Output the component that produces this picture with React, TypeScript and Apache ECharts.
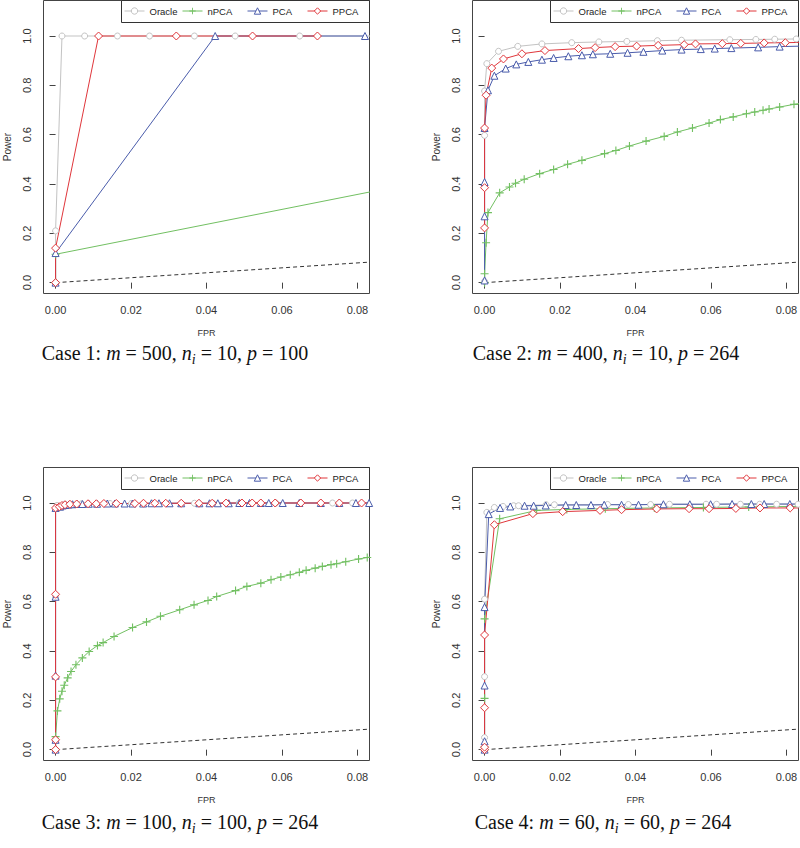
import { useEffect, useRef } from 'react';
import * as echarts from 'echarts';

// ---------- axis ticks / names ----------
const xTicks = [0, 0.02, 0.04, 0.06, 0.08];
const yTicks = [0, 0.2, 0.4, 0.6, 0.8, 1.0];
const seriesNames = ['Oracle', 'nPCA', 'PCA', 'PPCA'];
const refX = [0, 0.1];
const refY = [0, 0.1];

// ---------- captions ----------
const caseLabels = ['Case 1', 'Case 2', 'Case 3', 'Case 4'];
const mValues = ['500', '400', '100', '60'];
const nValues = ['10', '10', '100', '60'];
const pValues = ['100', '264', '264', '264'];

// ---------- Case 1 ----------
const c1OracleX = [0, 0, 0.0017, 0.0077, 0.0164, 0.0249, 0.0368, 0.0476, 0.0647, 0.09];
const c1OracleY = [0, 0.21, 1, 1, 1, 1, 1, 1, 1, 1];
const c1NpcaX = [0, 0, 0.12];
const c1NpcaY = [0, 0.115, 0.479];
const c1PcaX = [0, 0, 0.0423, 0.082];
const c1PcaY = [0, 0.12, 1, 1];
const c1PpcaX = [0, 0, 0.0114, 0.032, 0.0522, 0.0694];
const c1PpcaY = [0, 0.14, 1, 1, 1, 1];

// ---------- Case 2 ----------
const c2OracleX = [0, 0, 0, 0.0006, 0.0037, 0.0088, 0.0152, 0.0231, 0.0303, 0.0377, 0.0458, 0.0522, 0.065, 0.0719, 0.0769, 0.0826];
const c2OracleY = [0.005, 0.597, 0.777, 0.888, 0.938, 0.958, 0.968, 0.973, 0.976, 0.978, 0.981, 0.983, 0.985, 0.986, 0.987, 0.988];
const c2NpcaX = [0, 0, 0.0004, 0.0009, 0.004, 0.0066, 0.0082, 0.0105, 0.0146, 0.0183, 0.022, 0.0258, 0.0318, 0.0348, 0.0384, 0.0428, 0.0476, 0.0511, 0.0551, 0.0595, 0.0625, 0.0659, 0.0694, 0.0716, 0.0738, 0.0754, 0.0782, 0.082, 0.087];
const c2NpcaY = [0, 0.036, 0.162, 0.284, 0.364, 0.388, 0.403, 0.419, 0.442, 0.459, 0.48, 0.496, 0.523, 0.536, 0.554, 0.574, 0.593, 0.611, 0.627, 0.647, 0.661, 0.672, 0.685, 0.692, 0.699, 0.704, 0.712, 0.723, 0.733];
const c2PcaX = [0, 0, 0, 0, 0.0009, 0.0026, 0.0056, 0.0084, 0.0116, 0.0152, 0.0183, 0.0222, 0.0258, 0.0287, 0.0333, 0.0379, 0.0421, 0.0471, 0.0522, 0.0573, 0.061, 0.0654, 0.0725, 0.0782, 0.087];
const c2PcaY = [0.009, 0.269, 0.408, 0.627, 0.78, 0.839, 0.868, 0.885, 0.895, 0.904, 0.911, 0.918, 0.922, 0.926, 0.928, 0.932, 0.936, 0.941, 0.945, 0.947, 0.949, 0.951, 0.954, 0.957, 0.96];
const c2PpcaX = [0, 0, 0, 0.0004, 0.0019, 0.005, 0.0099, 0.016, 0.0249, 0.0293, 0.0346, 0.0403, 0.046, 0.0529, 0.0559, 0.063, 0.0679, 0.0741, 0.0797, 0.087];
const c2PpcaY = [0.222, 0.385, 0.627, 0.76, 0.87, 0.907, 0.928, 0.941, 0.949, 0.953, 0.957, 0.959, 0.962, 0.965, 0.968, 0.969, 0.97, 0.972, 0.973, 0.975];

// ---------- Case 3 ----------
const c3OracleX = [0, 0, 0, 0, 0.0004, 0.0025, 0.0069, 0.0144, 0.0201, 0.0258, 0.0333, 0.0368, 0.0417, 0.0487, 0.0584, 0.065, 0.0734, 0.0787, 0.09];
const c3OracleY = [0, 0.042, 0.62, 0.978, 0.99, 0.995, 0.997, 0.998, 0.998, 0.999, 0.999, 0.999, 0.999, 1, 1, 1, 1, 1, 1];
const c3NpcaX = [0, 0, 0.0005, 0.0011, 0.0017, 0.0023, 0.0032, 0.0041, 0.0054, 0.0071, 0.0089, 0.0111, 0.0126, 0.0155, 0.0204, 0.0241, 0.0278, 0.0329, 0.0367, 0.0404, 0.0427, 0.0477, 0.0507, 0.0544, 0.0571, 0.0597, 0.0622, 0.0646, 0.0664, 0.0688, 0.0707, 0.073, 0.0745, 0.0769, 0.0803, 0.0826, 0.087];
const c3NpcaY = [0, 0.053, 0.157, 0.206, 0.237, 0.261, 0.291, 0.317, 0.344, 0.372, 0.398, 0.422, 0.434, 0.459, 0.495, 0.518, 0.541, 0.567, 0.587, 0.605, 0.621, 0.645, 0.662, 0.675, 0.689, 0.7, 0.709, 0.719, 0.727, 0.736, 0.743, 0.75, 0.754, 0.762, 0.773, 0.779, 0.79];
const c3PcaX = [0, 0, 0, 0, 0, 0.0012, 0.0019, 0.0026, 0.0035, 0.0045, 0.0057, 0.0071, 0.0088, 0.011, 0.0137, 0.0157, 0.0183, 0.0204, 0.0232, 0.0254, 0.0274, 0.0302, 0.0333, 0.0381, 0.0408, 0.043, 0.0459, 0.0487, 0.0514, 0.0544, 0.0565, 0.0602, 0.0646, 0.0703, 0.0752, 0.0796, 0.0831];
const c3PcaY = [0, 0.04, 0.3, 0.62, 0.98, 0.985, 0.99, 0.992, 0.994, 0.995, 0.996, 0.996, 0.997, 0.997, 0.998, 0.998, 0.998, 0.998, 0.998, 0.999, 0.999, 0.999, 0.999, 0.999, 0.999, 0.999, 0.999, 1, 1, 1, 1, 1, 1, 1, 1, 1, 1];
const c3PpcaX = [0, 0, 0, 0, 0, 0.001, 0.0017, 0.0025, 0.0038, 0.0056, 0.0086, 0.0108, 0.0128, 0.0161, 0.021, 0.0233, 0.0263, 0.0292, 0.0333, 0.038, 0.0415, 0.0452, 0.0494, 0.0521, 0.0544, 0.0582, 0.065, 0.0703, 0.0752, 0.0811, 0.09];
const c3PpcaY = [0, 0.04, 0.295, 0.63, 0.98, 0.985, 0.99, 0.993, 0.995, 0.996, 0.997, 0.997, 0.998, 0.998, 0.998, 0.999, 0.999, 0.999, 0.999, 0.999, 0.999, 1, 1, 1, 1, 1, 1, 1, 1, 1, 1];

// ---------- Case 4 ----------
const c4OracleX = [0, 0, 0, 0, 0.0006, 0.0026, 0.0049, 0.0077, 0.009, 0.0163, 0.0185, 0.0326, 0.0381, 0.044, 0.049, 0.0587, 0.0615, 0.0678, 0.0729, 0.0774, 0.0831];
const c4OracleY = [0, 0.049, 0.296, 0.61, 0.962, 0.982, 0.986, 0.989, 0.989, 0.993, 0.993, 0.994, 0.994, 0.994, 0.995, 0.995, 0.995, 0.995, 0.995, 0.995, 0.995];
const c4NpcaX = [0, 0, 0, 0, 0.004, 0.0138, 0.0218, 0.032, 0.045, 0.058, 0.07, 0.087];
const c4NpcaY = [0, 0.01, 0.208, 0.53, 0.936, 0.97, 0.974, 0.977, 0.98, 0.982, 0.984, 0.987];
const c4PcaX = [0, 0, 0, 0, 0.0011, 0.0041, 0.0068, 0.0106, 0.013, 0.0162, 0.0215, 0.0243, 0.0282, 0.0317, 0.0363, 0.0408, 0.0474, 0.0544, 0.0599, 0.0656, 0.0707, 0.0741, 0.0809, 0.087];
const c4PcaY = [0, 0.034, 0.26, 0.578, 0.955, 0.98, 0.986, 0.989, 0.989, 0.99, 0.992, 0.992, 0.992, 0.993, 0.993, 0.993, 0.995, 0.995, 0.995, 0.996, 0.996, 0.996, 0.996, 0.996];
const c4PpcaX = [0, 0, 0, 0, 0.0026, 0.0128, 0.0207, 0.0306, 0.0363, 0.0456, 0.0542, 0.0595, 0.0666, 0.073, 0.081, 0.087];
const c4PpcaY = [0, 0.01, 0.17, 0.465, 0.912, 0.957, 0.965, 0.97, 0.973, 0.976, 0.977, 0.977, 0.978, 0.98, 0.98, 0.98];

const panels = [
  [[c1OracleX, c1OracleY], [c1NpcaX, c1NpcaY], [c1PcaX, c1PcaY], [c1PpcaX, c1PpcaY]],
  [[c2OracleX, c2OracleY], [c2NpcaX, c2NpcaY], [c2PcaX, c2PcaY], [c2PpcaX, c2PpcaY]],
  [[c3OracleX, c3OracleY], [c3NpcaX, c3NpcaY], [c3PcaX, c3PcaY], [c3PpcaX, c3PpcaY]],
  [[c4OracleX, c4OracleY], [c4NpcaX, c4NpcaY], [c4PcaX, c4PcaY], [c4PpcaX, c4PpcaY]],
];

// ---------- layout / style ----------
const X_MIN = -0.0032, X_MAX = 0.0832, Y_MIN = -0.044, Y_MAX = 1.144;
const GRID_LEFT = [43.5, 472.5, 43.5, 472.5];
const GRID_TOP = [0.5, 0.5, 467.5, 467.5];
const GRID_W = 326;
const GRID_H = 293;
const LEG_BOX_LEFT = [121.5, 550.5, 121.5, 550.5];
const LEG_BOX_W = 248;
const LEG_BOX_H = 22;
const LEG_ITEM_OFFSET = [2.5, 60.5, 125.5, 185.5];
const CAP_X = [175, 606, 180, 603];
const CAP_Y = [353, 353, 822, 822];
const SANS = 'Liberation Sans, Arial, sans-serif';
const SERIF = 'Liberation Serif, Times New Roman, serif';
const AXIS_COLOR = '#444';
const PLUS = 'path://M4.3,0H5.7V4.3H10V5.7H5.7V10H4.3V5.7H0V4.3H4.3Z';

const STYLES: Record<string, any> = {
  Oracle: { color: '#c3c3c3', symbol: 'circle', size: 6, hollow: true },
  nPCA: { color: '#72c062', symbol: PLUS, size: 8, hollow: false },
  PCA: { color: '#4a5cab', symbol: 'triangle', size: 7, hollow: true },
  PPCA: { color: '#e0363b', symbol: 'diamond', size: 8, hollow: true },
};

export default function App() {
  const ref = useRef<HTMLDivElement>(null);
  useEffect(() => {
    document.body.style.margin = '0';
    if (!ref.current) return;
    const chart = echarts.init(ref.current, undefined, { renderer: 'svg' });

    const grid = GRID_LEFT.map((l, i) => ({
      left: l, top: GRID_TOP[i], width: GRID_W, height: GRID_H,
      show: true, borderColor: AXIS_COLOR, borderWidth: 1, backgroundColor: 'transparent',
      containLabel: false, outerBoundsMode: 'none',
    }));

    const xAxis = GRID_LEFT.map((_, i) => ({
      type: 'value', gridIndex: i, min: X_MIN, max: X_MAX,
      axisLine: { show: false }, splitLine: { show: false },
      axisTick: { show: true, inside: false, length: 6, customValues: xTicks, lineStyle: { color: AXIS_COLOR, width: 1 } },
      axisLabel: { customValues: xTicks, formatter: (v: number) => v.toFixed(2), fontSize: 11, color: '#333', fontFamily: SANS, margin: 11 },
      name: 'FPR', nameLocation: 'middle', nameGap: 35,
      nameTextStyle: { fontSize: 9, color: '#333', fontFamily: SANS },
    }));

    const yAxis = GRID_LEFT.map((_, i) => ({
      type: 'value', gridIndex: i, min: Y_MIN, max: Y_MAX,
      axisLine: { show: false }, splitLine: { show: false },
      axisTick: { show: true, inside: false, length: 6, customValues: yTicks, lineStyle: { color: AXIS_COLOR, width: 1 } },
      axisLabel: { customValues: yTicks, rotate: 90, formatter: (v: number) => v.toFixed(1), fontSize: 11, color: '#333', fontFamily: SANS, margin: 11 },
      name: 'Power', nameLocation: 'middle', nameRotate: 90, nameGap: 31,
      nameTextStyle: { fontSize: 10, color: '#333', fontFamily: SANS },
    }));

    const series: any[] = [];
    panels.forEach((panel, gi) => {
      series.push({
        type: 'line', name: 'diag', xAxisIndex: gi, yAxisIndex: gi, symbol: 'none',
        data: refX.map((x, k) => [x, refY[k]]),
        lineStyle: { color: '#333', width: 1, type: [4, 3] }, silent: true, clip: true,
      });
      panel.forEach(([xs, ys], si) => {
        const name = seriesNames[si];
        const st = STYLES[name];
        series.push({
          type: 'line', name, xAxisIndex: gi, yAxisIndex: gi, clip: true,
          data: xs.map((x: number, k: number) => [x, ys[k]]),
          symbol: st.symbol, symbolSize: st.size, showAllSymbol: true,
          lineStyle: { color: st.color, width: 1 },
          itemStyle: st.hollow
            ? { color: '#fff', borderColor: st.color, borderWidth: 1 }
            : { color: st.color, borderWidth: 0 },
          emphasis: { disabled: true },
        });
      });
    });

    // one legend per entry, placed like R's horizontal legend
    const legend: any[] = [];
    LEG_BOX_LEFT.forEach((bx, pi) => {
      seriesNames.forEach((n, k) => {
        const st = STYLES[n];
        legend.push({
          left: bx + LEG_ITEM_OFFSET[k], top: GRID_TOP[pi] + 5.5,
          orient: 'horizontal', selectedMode: false, z: 5,
          itemWidth: 20, itemHeight: 8, itemGap: 0, padding: 0,
          textStyle: { fontSize: 9.5, fontFamily: SANS, color: '#222' },
          lineStyle: { width: 1, color: st.color },
          itemStyle: st.hollow
            ? { color: '#fff', borderColor: st.color, borderWidth: 1 }
            : { color: st.color, borderWidth: 0 },
          data: [n],
        });
      });
    });

    const graphic: any[] = LEG_BOX_LEFT.map((bx, pi) => ({
      type: 'rect', z: 3,
      shape: { x: bx, y: GRID_TOP[pi], width: LEG_BOX_W, height: LEG_BOX_H },
      style: { fill: '#fff', stroke: '#333', lineWidth: 1 },
    }));
    caseLabels.forEach((c, i) => {
      graphic.push({
        type: 'text', x: CAP_X[i], y: CAP_Y[i],
        style: {
          text: `{r|${c}: }{i|m}{r| = ${mValues[i]}, }{i|n}{s|i}{r| = ${nValues[i]}, }{i|p}{r| = ${pValues[i]}}`,
          align: 'center', verticalAlign: 'middle',
          rich: {
            r: { fontFamily: SERIF, fontSize: 20, fill: '#111', lineHeight: 26 },
            i: { fontFamily: SERIF, fontSize: 20, fontStyle: 'italic', fill: '#111', lineHeight: 26 },
            s: { fontFamily: SERIF, fontSize: 14, fontStyle: 'italic', fill: '#111', verticalAlign: 'bottom', lineHeight: 26 },
          },
        },
      });
    });

    chart.setOption({
      animation: false,
      backgroundColor: '#fff',
      grid, xAxis, yAxis, series, legend, graphic,
    });
    return () => chart.dispose();
  }, []);
  return <div ref={ref} style={{ width: 800, height: 848 }} />;
}
